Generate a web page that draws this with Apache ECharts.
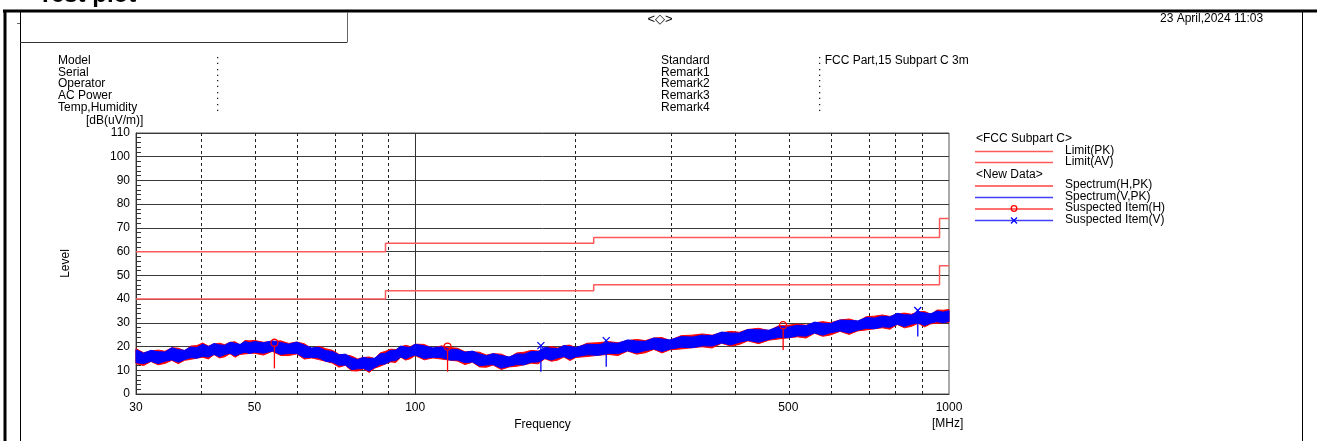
<!DOCTYPE html>
<html><head><meta charset="utf-8">
<script src="https://cdn.jsdelivr.net/npm/echarts@6/dist/echarts.min.js"></script>
<style>html,body{margin:0;padding:0;background:#fff;}#c{width:1317px;height:441px;}</style>
</head><body><div id="c"></div>
<script>
// ---------- data ----------
const FREQ = [30,31,32,33,34,35,36,37,38,39,40,41,42,43,44,45,46,47,48,49,50,52,54,56,58,60,62,64,66,68,70,72,74,76,78,80,82,84,86,88,90,92,94,96,98,100,104,108,112,116,120,124,128,132,136,140,145,150,155,160,165,170,175,180,185,190,195,200,210,220,230,240,250,260,270,280,290,300,315,330,345,360,375,390,405,420,440,460,480,500,520,540,560,580,600,625,650,675,700,725,750,775,800,825,850,875,900,925,950,975,1000];
const V_HI = [18.6,17.2,18.4,17.8,17.7,19.5,18.7,18.4,19.8,19.6, 21.0,20.0,21.3,20.7,20.5,21.8,21.4,20.9,22.1,21.6, 22.1,21.6,22.4,21.7,21.0,21.9,20.6,19.4,19.7,18.3, 17.9,16.5,16.8,15.3,14.5,15.4,15.0,15.1,16.9,17.2, 18.4,18.5,20.2,19.8,19.7,21.0,20.3,19.4,19.9,18.8, 18.8,17.6,18.1,16.9,16.1,17.0,16.2,15.6,16.9,16.8, 17.9,17.9,19.6,19.3,19.1,20.4,20.0,19.6,21.0,20.8, 21.6,21.4,22.8,22.3,22.2,23.6,23.2,22.8,24.2,24.0, 24.8,24.6,26.1,25.7,25.7,27.2,27.1,26.9,28.4,28.2, 29.0,28.8,30.3,29.8,29.7,31.2,31.0,30.8,32.2,32.0, 32.8,32.5,34.0,33.4,33.3,34.6,34.2,33.8,35.0,34.5,35.1];
const V_LO = [13.2,12.8,13.8,12.8,13.8,14.4,13.4,14.5,15.3,15.1, 15.9,15.6,16.7,15.7,16.6,17.2,16.1,17.0,17.6,17.1, 17.6,17.2,18.1,16.7,17.1,17.1,15.3,15.5,15.2,13.8, 13.4,12.1,12.2,10.3,10.6,10.8,9.7,11.2,12.4,12.7, 13.9,14.1,15.6,14.8,15.8,16.4,15.0,15.5,15.4,14.3, 14.3,13.2,13.5,11.9,12.2,12.4,10.9,11.7,12.4,12.3, 13.4,13.5,15.0,14.3,15.2,15.8,14.7,15.7,16.5,16.3, 17.1,17.0,18.2,17.3,18.3,19.0,17.9,18.9,19.7,19.5, 20.3,20.2,21.5,20.7,21.8,22.6,21.8,23.0,23.9,23.7, 24.5,24.4,25.7,24.8,25.8,26.6,25.7,26.9,27.7,27.5, 28.3,28.1,29.4,28.4,29.4,30.0,28.9,29.9,30.5,30.0,30.6];
const H_HI = [19.1,17.4,18.1,18.5,18.0,19.5,19.3,18.2,20.2,20.4, 21.5,20.2,21.0,21.4,20.8,21.8,22.0,20.7,22.5,22.4, 22.6,21.8,22.1,22.4,21.3,21.9,21.2,19.2,20.1,19.1, 18.4,16.7,16.5,16.0,14.8,15.4,15.6,14.9,17.3,18.0, 18.9,18.7,19.9,20.5,20.0,21.0,20.9,19.2,20.3,19.6, 19.3,17.8,17.8,17.6,16.4,17.0,16.8,15.4,17.3,17.6, 18.4,18.1,19.3,20.0,19.4,20.4,20.6,19.4,21.4,21.6, 22.1,21.6,22.5,23.0,22.5,23.6,23.8,22.6,24.6,24.8, 25.3,24.8,25.8,26.4,26.0,27.2,27.7,26.7,28.8,29.0, 29.5,29.0,30.0,30.5,30.0,31.2,31.6,30.6,32.6,32.8, 33.3,32.7,33.7,34.1,33.6,34.6,34.8,33.6,35.4,35.3,35.6];
const H_LO = [12.8,12.0,13.7,12.3,12.9,14.2,12.8,14.2,14.6,15.1, 15.5,14.8,16.6,15.2,15.7,17.0,15.5,16.7,16.9,17.1, 17.2,16.4,18.0,16.2,16.2,16.9,14.7,15.2,14.5,13.8, 13.0,11.3,12.1,9.8,9.7,10.6,9.1,10.9,11.7,12.7, 13.5,13.3,15.5,14.3,14.9,16.2,14.4,15.2,14.7,14.3, 13.9,12.4,13.4,11.4,11.3,12.2,10.3,11.4,11.7,12.3, 13.0,12.7,14.9,13.8,14.3,15.6,14.1,15.4,15.8,16.3, 16.7,16.2,18.1,16.8,17.4,18.8,17.3,18.6,19.0,19.5, 19.9,19.4,21.4,20.2,20.9,22.4,21.2,22.7,23.2,23.7, 24.1,23.6,25.6,24.3,24.9,26.4,25.1,26.6,27.0,27.5, 27.9,27.3,29.3,27.9,28.5,29.8,28.3,29.6,29.8,30.0,30.2];
const LIMIT_FREQ = [30, 88, 216, 960, 1000];
const LIMIT_PK = [60, 63.5, 66, 74, 74];
const LIMIT_AV = [40, 43.5, 46, 54, 54];
const SUSP_H_FREQ = [54.5, 115, 489];
const SUSP_H_LEVEL = [21.6, 20.0, 29.0];
const SUSP_H_FLOOR = [10.8, 9.4, 18.5];
const SUSP_V_FREQ = [172, 228, 874];
const SUSP_V_LEVEL = [20.4, 22.5, 35.2];
const SUSP_V_FLOOR = [9.4, 11.5, 24.2];
const X_TICKS = [30, 50, 100, 500, 1000];
const X_GRID_DASHED = [40, 50, 60, 70, 80, 90, 200, 300, 400, 500, 600, 700, 800, 900];
const X_GRID_SOLID = [100];
const LEFT_LABELS = ['Model', 'Serial', 'Operator', 'AC Power', 'Temp,Humidity'];
const RIGHT_LABELS = ['Standard', 'Remark1', 'Remark2', 'Remark3', 'Remark4'];
const RIGHT_VALUES = ['FCC Part,15 Subpart C 3m', '', '', '', ''];

// ---------- styles ----------
const FONT = '"Liberation Sans", Arial, sans-serif';
const C_LIMIT = '#ff5a5a', C_H = '#ff0000', C_V = '#0000ff';
const lg = Math.log10;

function bandSeries(name, hi, lo, color, z) {
  return {
    name, type: 'custom', z, silent: true, animation: false,
    data: [[2, 20]],
    renderItem(params, api) {
      const pts = [];
      for (let i = 0; i < FREQ.length; i++) pts.push(api.coord([lg(FREQ[i]), hi[i]]));
      for (let i = FREQ.length - 1; i >= 0; i--) pts.push(api.coord([lg(FREQ[i]), lo[i]]));
      return { type: 'polygon', shape: { points: pts }, style: { fill: color, stroke: color, lineWidth: 1 } };
    }
  };
}
function suspectSeries(name, freqs, levels, floors, color, kind) {
  return {
    name, type: 'custom', z: 6, silent: true, animation: false,
    data: freqs.map((f, i) => [lg(f), levels[i], floors[i]]),
    encode: { x: 0, y: [1, 2] },
    renderItem(params, api) {
      const t = api.coord([api.value(0), api.value(1)]);
      const b = api.coord([api.value(0), api.value(2)]);
      const r = 3.5;
      const ch = [{ type: 'line', shape: { x1: t[0], y1: t[1] + (kind === 'circle' ? r : 0), x2: b[0], y2: b[1] }, style: { stroke: color, lineWidth: 1.3 } }];
      if (kind === 'circle') {
        ch.push({ type: 'circle', shape: { cx: t[0], cy: t[1], r }, style: { fill: 'none', stroke: color, lineWidth: 1.3 } });
      } else {
        ch.push({ type: 'line', shape: { x1: t[0] - r, y1: t[1] - r, x2: t[0] + r, y2: t[1] + r }, style: { stroke: color, lineWidth: 1.3 } });
        ch.push({ type: 'line', shape: { x1: t[0] - r, y1: t[1] + r, x2: t[0] + r, y2: t[1] - r }, style: { stroke: color, lineWidth: 1.3 } });
      }
      return { type: 'group', children: ch };
    }
  };
}
function limitSeries(name, vals, withGrid) {
  const s = {
    name, type: 'line', step: 'end', symbol: 'none', silent: true, animation: false, z: 5,
    data: LIMIT_FREQ.map((f, i) => [lg(f), vals[i]]),
    lineStyle: { color: C_LIMIT, width: 1.5 }
  };
  if (withGrid) {
    s.markLine = {
      silent: true, symbol: ['none', 'none'], z: 1, animation: false, label: { show: false },
      data: X_GRID_DASHED.map(f => ({ xAxis: lg(f), lineStyle: { type: [3, 3], color: '#222', width: 1 } }))
        .concat(X_GRID_SOLID.map(f => ({ xAxis: lg(f), lineStyle: { type: 'solid', color: '#333', width: 1 } })))
    };
  }
  return s;
}

// ---------- graphic (page frame, header, legend) ----------
function txt(x, y, text, extra) {
  return Object.assign({ type: 'text', silent: true, x, y, style: Object.assign({ text, font: '12px ' + FONT, fill: '#000', align: 'left', verticalAlign: 'middle' }, extra || {}) });
}
function ln(x1, y1, x2, y2, stroke, w) {
  return { type: 'line', silent: true, shape: { x1, y1, x2, y2 }, style: { stroke, lineWidth: w } };
}
const G = [];
G.push(txt(38, -5, 'Test plot', { font: 'bold 24px ' + FONT }));
G.push(ln(3, 11, 1317, 11, '#000', 3));
G.push(ln(5, 10, 5, 441, '#000', 3));
G.push(ln(20.5, 11, 20.5, 441, '#000', 1));
G.push(ln(1302.5, 11, 1302.5, 441, '#000', 1));
G.push(ln(20, 42.5, 347, 42.5, '#333', 1));
G.push(ln(347.5, 12, 347.5, 42.5, '#666', 1));
G.push(ln(17, 23.5, 20, 23.5, '#666', 1));
G.push(txt(660, 19, '<◇>', { align: 'center', font: '13px ' + FONT }));
G.push(txt(1160, 19, '23 April,2024 11:03'));
const ROW0 = 60.5, ROWSTEP = 11.8;
LEFT_LABELS.forEach((t, i) => { G.push(txt(58, ROW0 + i * ROWSTEP, t)); G.push(txt(216, ROW0 + i * ROWSTEP, ':')); });
RIGHT_LABELS.forEach((t, i) => {
  G.push(txt(661, ROW0 + i * ROWSTEP, t));
  G.push(txt(818, ROW0 + i * ROWSTEP, ':' + (RIGHT_VALUES[i] ? ' ' + RIGHT_VALUES[i] : '')));
});
G.push(txt(86, 121, '[dB(uV/m)]'));
G.push(txt(932, 424, '[MHz]'));
// legend
const LX0 = 975, LX1 = 1053, LTX = 1065;
G.push(txt(976, 138.5, '<FCC Subpart C>'));
G.push(ln(LX0, 151.5, LX1, 151.5, C_LIMIT, 1.5)); G.push(txt(LTX, 150.5, 'Limit(PK)'));
G.push(ln(LX0, 162.5, LX1, 162.5, C_LIMIT, 1.5)); G.push(txt(LTX, 161.5, 'Limit(AV)'));
G.push(txt(976, 174.5, '<New Data>'));
G.push(ln(LX0, 186, LX1, 186, '#ff4040', 1.5)); G.push(txt(LTX, 185, 'Spectrum(H,PK)'));
G.push(ln(LX0, 197.5, LX1, 197.5, '#4040ff', 1.5)); G.push(txt(LTX, 196.5, 'Spectrum(V,PK)'));
G.push(ln(LX0, 209, LX1, 209, '#ff4040', 1.5)); G.push(txt(LTX, 208, 'Suspected Item(H)'));
G.push({ type: 'circle', silent: true, shape: { cx: 1014, cy: 208.5, r: 2.8 }, style: { fill: 'none', stroke: C_H, lineWidth: 1.3 } });
G.push(ln(LX0, 220.5, LX1, 220.5, '#4040ff', 1.5)); G.push(txt(LTX, 219.5, 'Suspected Item(V)'));
G.push(ln(1011, 217.5, 1017, 223.5, C_V, 1.3)); G.push(ln(1011, 223.5, 1017, 217.5, C_V, 1.3));

const chart = echarts.init(document.getElementById('c'), null, { renderer: 'canvas' });
chart.setOption({
  animation: false,
  backgroundColor: '#fff',
  textStyle: { fontFamily: FONT },
  grid: { left: 136, right: 368, top: 133, bottom: 47, show: true, borderColor: '#555', borderWidth: 1, backgroundColor: 'transparent' },
  xAxis: {
    type: 'value', min: lg(30), max: 3,
    axisLine: { show: true, lineStyle: { color: '#333' } },
    axisTick: { show: false }, splitLine: { show: false },
    axisLabel: { customValues: X_TICKS.map(lg), formatter: v => String(Math.round(Math.pow(10, v))), color: '#000', fontSize: 12, margin: 8, fontFamily: FONT },
    name: 'Frequency', nameLocation: 'middle', nameGap: 23, nameTextStyle: { color: '#000', fontSize: 12, fontFamily: FONT }
  },
  yAxis: {
    type: 'value', min: 0, max: 110, interval: 10,
    axisLine: { show: true, lineStyle: { color: '#333' } },
    axisTick: { show: false, inside: true },
    minorTick: { show: true, splitNumber: 5, length: 5, lineStyle: { color: '#333' } },
    splitLine: { show: true, lineStyle: { color: '#3a3a3a', width: 1 } },
    axisLabel: { color: '#000', fontSize: 12, margin: 6, fontFamily: FONT },
    name: 'Level', nameLocation: 'middle', nameGap: 64, nameTextStyle: { color: '#000', fontSize: 12, fontFamily: FONT }
  },
  series: [
    limitSeries('Limit(PK)', LIMIT_PK, true),
    limitSeries('Limit(AV)', LIMIT_AV, false),
    bandSeries('Spectrum(H,PK)', H_HI, H_LO, C_H, 3),
    bandSeries('Spectrum(V,PK)', V_HI, V_LO, C_V, 4),
    suspectSeries('Suspected Item(H)', SUSP_H_FREQ, SUSP_H_LEVEL, SUSP_H_FLOOR, C_H, 'circle'),
    suspectSeries('Suspected Item(V)', SUSP_V_FREQ, SUSP_V_LEVEL, SUSP_V_FLOOR, C_V, 'cross')
  ],
  graphic: G
});
</script></body></html>
